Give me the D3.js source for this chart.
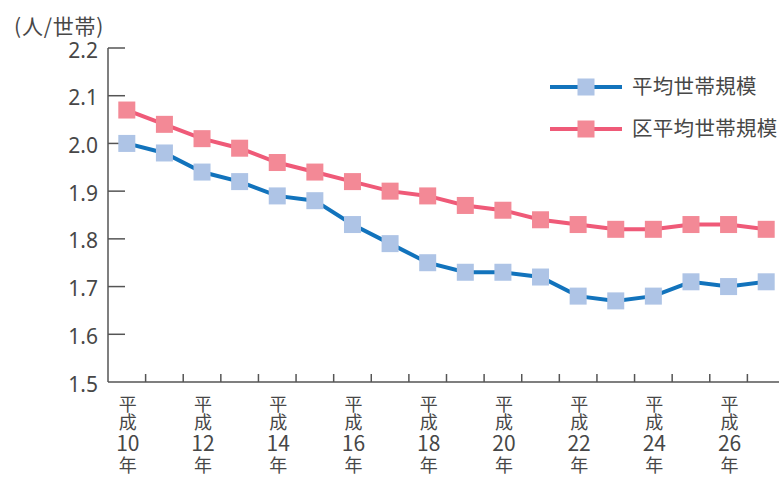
<!DOCTYPE html>
<html>
<head>
<meta charset="utf-8">
<script src="https://cdn.jsdelivr.net/npm/d3@7"></script>
<style>
  body { margin: 0; background: #fff; }
  svg text { font-family: "Noto Sans CJK JP", "Noto Sans", sans-serif; fill: #474747; }
</style>
</head>
<body>
<div id="graf"></div>
<script>
// Datos
const years = [10, 11, 12, 13, 14, 15, 16, 17, 18, 19, 20, 21, 22, 23, 24, 25, 26, 27]
const avgSize = [2.00, 1.98, 1.94, 1.92, 1.89, 1.88, 1.83, 1.79, 1.75, 1.73, 1.73, 1.72, 1.68, 1.67, 1.68, 1.71, 1.70, 1.71]
const wardSize = [2.07, 2.04, 2.01, 1.99, 1.96, 1.94, 1.92, 1.90, 1.89, 1.87, 1.86, 1.84, 1.83, 1.82, 1.82, 1.83, 1.83, 1.82]
const yTicks = [1.5, 1.6, 1.7, 1.8, 1.9, 2.0, 2.1, 2.2]
const seriesNames = ['平均世帯規模', '区平均世帯規模']
const unitText = '(人/世帯)'

const series = [
  { name: seriesNames[0], values: avgSize, line: '#1273bc', box: '#aec4e6' },
  { name: seriesNames[1], values: wardSize, line: '#ef5a78', box: '#f38996' }
]

// Dimensiones
const anchoTotal = 779
const altoTotal = 480
const margins = { top: 48, left: 108, bottom: 98 }
const ancho = 677
const alto = altoTotal - margins.top - margins.bottom

const svg = d3.select('#graf')
  .append('svg')
  .attr('width', anchoTotal)
  .attr('height', altoTotal)

// Escaladores
const x = d3.scaleBand()
  .domain(years)
  .range([margins.left, margins.left + ancho])

const y = d3.scaleLinear()
  .domain([1.5, 2.2])
  .range([margins.top + alto, margins.top])

// Eje Y
svg.append('line')
  .attr('x1', margins.left).attr('x2', margins.left)
  .attr('y1', y(2.2)).attr('y2', y(1.5))
  .attr('stroke', '#555').attr('stroke-width', 1.5)

svg.selectAll('.ytick')
  .data(yTicks.slice(1))
  .join('line')
  .attr('class', 'ytick')
  .attr('x1', margins.left).attr('x2', margins.left + 17)
  .attr('y1', d => y(d)).attr('y2', d => y(d))
  .attr('stroke', '#555').attr('stroke-width', 1.5)

svg.selectAll('.ylabel')
  .data(yTicks)
  .join('text')
  .attr('class', 'ylabel')
  .attr('x', 98)
  .attr('y', d => y(d) + 2)
  .attr('dy', '0.36em')
  .attr('text-anchor', 'end')
  .style('font-family', '"Noto Sans", sans-serif')
  .style('font-size', '21px')
  .text(d => d.toFixed(1))

svg.append('text')
  .attr('x', 14)
  .attr('y', 34)
  .style('font-size', '21px')
  .style('letter-spacing', '0.8px')
  .text(unitText)

// Eje X
svg.append('line')
  .attr('x1', margins.left).attr('x2', anchoTotal)
  .attr('y1', y(1.5)).attr('y2', y(1.5))
  .attr('stroke', '#555').attr('stroke-width', 1.5)

svg.selectAll('.xtick')
  .data(years.slice(1))
  .join('line')
  .attr('class', 'xtick')
  .attr('x1', d => x(d)).attr('x2', d => x(d))
  .attr('y1', y(1.5)).attr('y2', y(1.5) - 8)
  .attr('stroke', '#555').attr('stroke-width', 1.5)

// Etiquetas verticales: 平 / 成 / año / 年
const xLabels = svg.selectAll('.xlabel')
  .data(years.filter(d => d % 2 === 0))
  .join('text')
  .attr('class', 'xlabel')
  .attr('text-anchor', 'middle')

const rows = [['平', 411, 18], ['成', 429, 18], [null, 451, 21], ['年', 472, 18]]
rows.forEach(([txt, yy, fs]) => {
  xLabels.append('tspan')
    .attr('x', d => x(d) + x.bandwidth() / 2 + 1)
    .attr('y', yy)
    .style('font-size', fs + 'px')
    .text(d => txt === null ? d : txt)
})

// Lineas y marcadores
const line = d3.line()
  .x((d, i) => x(years[i]) + x.bandwidth() / 2)
  .y(d => y(d))

const box = 17

series.forEach(s => {
  svg.append('path')
    .datum(s.values)
    .attr('d', line)
    .attr('fill', 'none')
    .attr('stroke', s.line)
    .attr('stroke-width', 4)

  svg.append('g')
    .selectAll('rect')
    .data(s.values)
    .join('rect')
    .attr('x', (d, i) => x(years[i]) + x.bandwidth() / 2 - box / 2)
    .attr('y', d => y(d) - box / 2)
    .attr('width', box)
    .attr('height', box)
    .attr('fill', s.box)
})

// Leyenda
const legend = svg.append('g')
  .selectAll('g')
  .data(series)
  .join('g')
  .attr('transform', (d, i) => `translate(550, ${87 + i * 42})`)

legend.append('line')
  .attr('x1', 0).attr('x2', 72)
  .attr('stroke', d => d.line)
  .attr('stroke-width', 4)

legend.append('rect')
  .attr('x', 36 - box / 2).attr('y', -box / 2)
  .attr('width', box).attr('height', box)
  .attr('fill', d => d.box)

legend.append('text')
  .attr('x', 82)
  .attr('dy', '0.36em')
  .style('font-size', '20.5px')
  .style('letter-spacing', '0.3px')
  .text(d => d.name)
</script>
</body>
</html>
